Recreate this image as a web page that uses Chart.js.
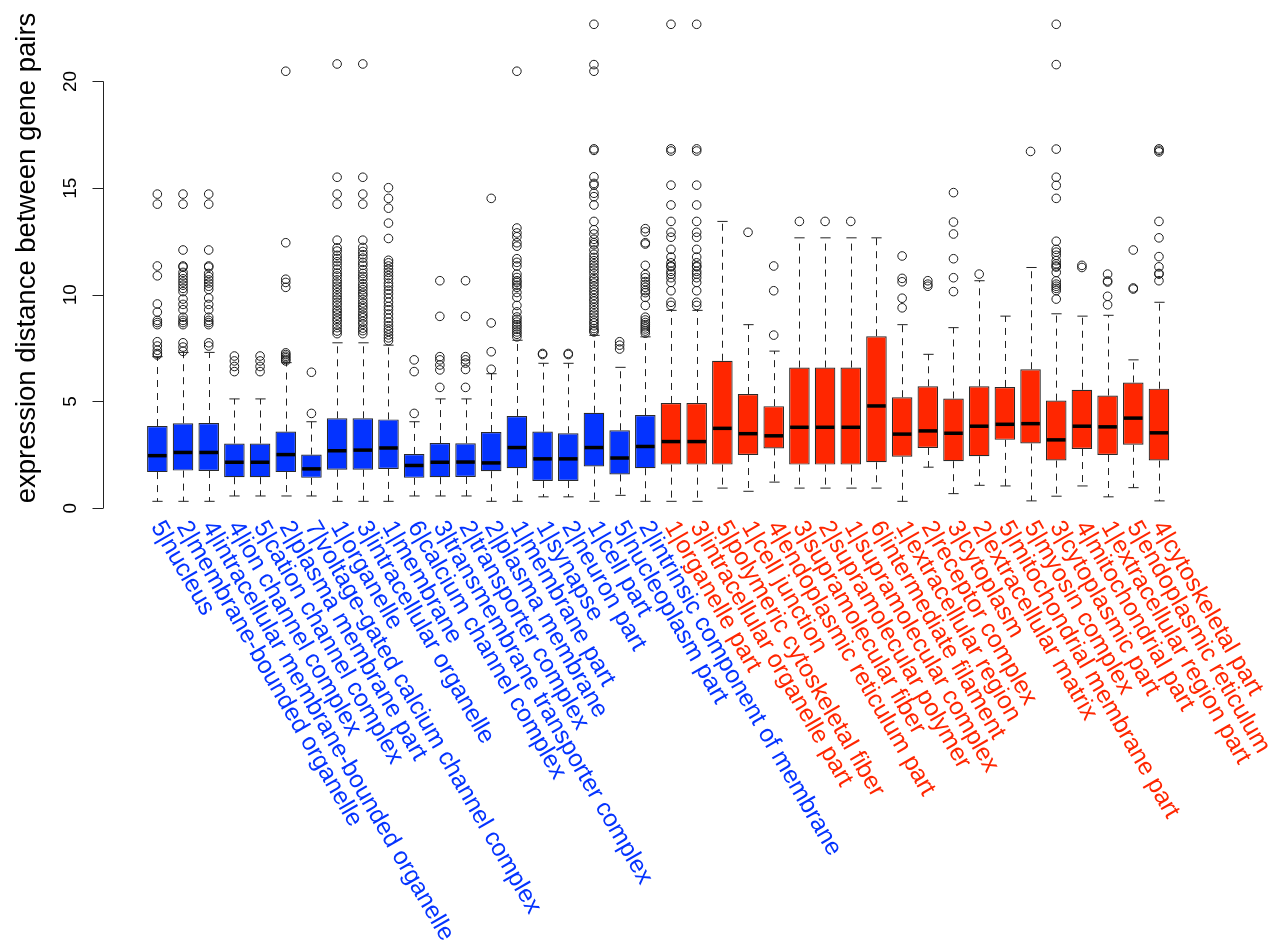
<!DOCTYPE html>
<html>
<head>
<meta charset="utf-8">
<script src="https://cdn.jsdelivr.net/npm/chart.js@4/dist/chart.umd.min.js"></script>
<style>
  html, body { margin: 0; padding: 0; background: #ffffff; }
  #wrap { width: 1276px; height: 942px; }
</style>
</head>
<body>
<div id="wrap"><canvas id="plot" width="1276" height="942"></canvas></div>
<script>
// GO cellular-component terms, two groups
const groupOneTerms = [
  '5|nucleus', '2|membrane-bounded organelle', '4|intracellular membrane-bounded organelle',
  '4|ion channel complex', '5|cation channel complex', '2|plasma membrane part',
  '7|voltage-gated calcium channel complex', '1|organelle', '3|intracellular organelle',
  '1|membrane', '6|calcium channel complex', '3|transmembrane transporter complex',
  '2|transporter complex', '2|plasma membrane', '1|membrane part', '1|synapse',
  '2|neuron part', '1|cell part', '5|nucleoplasm part', '2|intrinsic component of membrane'
];
const groupTwoTerms = [
  '1|organelle part', '3|intracellular organelle part', '5|polymeric cytoskeletal fiber',
  '1|cell junction', '4|endoplasmic reticulum part', '3|supramolecular fiber',
  '2|supramolecular polymer', '1|supramolecular complex', '6|intermediate filament',
  '1|extracellular region', '2|receptor complex', '3|cytoplasm', '2|extracellular matrix',
  '5|mitochondrial membrane part', '5|myosin complex', '3|cytoplasmic part',
  '4|mitochondrial part', '1|extracellular region part', '5|endoplasmic reticulum',
  '4|cytoskeletal part'
];

// five-number summaries per term
const lowWhisker = [
  0.32, 0.32, 0.32, 0.57, 0.57, 0.57, 0.57, 0.32, 0.32, 0.32,
  0.57, 0.57, 0.57, 0.32, 0.32, 0.53, 0.53, 0.32, 0.60, 0.32,
  0.32, 0.32, 0.94, 0.79, 1.22, 0.94, 0.94, 0.94, 0.94, 0.32,
  1.92, 0.68, 1.07, 1.04, 0.34, 0.56, 1.04, 0.53, 0.96, 0.34
];
const lowerQuartile = [
  1.69, 1.76, 1.74, 1.45, 1.45, 1.69, 1.42, 1.80, 1.80, 1.84,
  1.42, 1.45, 1.46, 1.73, 1.87, 1.27, 1.27, 1.95, 1.58, 1.87,
  2.04, 2.04, 2.04, 2.49, 2.80, 2.04, 2.04, 2.04, 2.15, 2.41,
  2.82, 2.20, 2.43, 3.20, 3.03, 2.23, 2.77, 2.49, 2.97, 2.23
];
const medianValue = [
  2.46, 2.61, 2.61, 2.15, 2.15, 2.51, 1.84, 2.69, 2.72, 2.82,
  2.00, 2.15, 2.16, 2.12, 2.84, 2.31, 2.31, 2.84, 2.35, 2.89,
  3.12, 3.12, 3.74, 3.49, 3.39, 3.79, 3.79, 3.79, 4.79, 3.47,
  3.62, 3.51, 3.84, 3.93, 3.96, 3.20, 3.84, 3.81, 4.22, 3.53
];
const upperQuartile = [
  3.85, 3.98, 3.99, 3.03, 3.03, 3.59, 2.51, 4.21, 4.21, 4.16,
  2.54, 3.05, 3.04, 3.57, 4.32, 3.59, 3.51, 4.47, 3.65, 4.36,
  4.93, 4.93, 6.91, 5.35, 4.78, 6.59, 6.59, 6.59, 8.06, 5.20,
  5.71, 5.14, 5.71, 5.68, 6.51, 5.04, 5.55, 5.28, 5.89, 5.60
];
const highWhisker = [
  7.10, 7.30, 7.30, 5.12, 5.12, 6.82, 4.05, 7.75, 7.75, 7.64,
  4.05, 5.12, 5.12, 6.30, 7.87, 6.79, 6.79, 8.10, 6.60, 8.03,
  9.27, 9.27, 13.44, 8.60, 7.36, 12.67, 12.67, 12.67, 12.67, 8.60,
  7.21, 8.46, 10.66, 9.00, 11.28, 9.11, 9.00, 9.04, 6.95, 9.65
];
const outlierValues = [
  [14.72, 14.25, 11.35, 10.89, 9.57, 9.19, 8.80, 8.70, 8.60, 7.80, 7.60, 7.40, 7.25, 7.18],
  [14.72, 14.25, 12.10, 11.35, 11.30, 11.05, 10.90, 10.75, 10.60, 10.45, 10.30, 10.15, 9.80, 9.55, 9.30, 8.95, 8.80, 8.70, 8.60, 7.75, 7.55, 7.35],
  [14.72, 14.25, 12.10, 11.35, 11.30, 11.00, 10.85, 10.70, 10.55, 10.40, 10.25, 9.85, 9.55, 9.30, 8.95, 8.80, 8.70, 8.60, 7.75, 7.60],
  [7.13, 6.90, 6.64, 6.40],
  [7.13, 6.90, 6.64, 6.40],
  [20.48, 12.44, 10.73, 10.58, 10.35, 7.28, 7.20, 7.12, 7.05, 6.97, 6.90],
  [6.37, 4.44],
  [20.82, 15.51, 14.72, 14.25, 12.56, 12.20, 12.05, 11.85, 11.70, 11.55, 11.38, 11.20, 11.02, 10.88, 10.70, 10.55, 10.40, 10.26, 10.10, 9.95, 9.80, 9.64, 9.50, 9.33, 9.20, 9.05, 8.90, 8.77, 8.60, 8.46, 8.30, 8.18],
  [20.82, 15.51, 14.72, 14.25, 12.56, 12.22, 12.03, 11.88, 11.72, 11.52, 11.38, 11.18, 11.00, 10.86, 10.72, 10.52, 10.38, 10.24, 10.08, 9.96, 9.78, 9.62, 9.48, 9.35, 9.18, 9.04, 8.92, 8.75, 8.62, 8.44, 8.32, 8.18],
  [15.02, 14.52, 14.06, 13.36, 12.64, 11.62, 11.50, 11.35, 11.20, 11.05, 10.90, 10.75, 10.55, 10.40, 10.22, 10.05, 9.85, 9.65, 9.45, 9.30, 9.10, 8.90, 8.72, 8.55, 8.40, 8.28, 8.12, 7.98, 7.85],
  [6.95, 6.40, 4.44],
  [10.66, 8.99, 7.10, 6.95, 6.71, 6.48, 5.66],
  [10.66, 8.99, 7.10, 6.95, 6.80, 6.50, 5.66],
  [14.52, 8.68, 7.33, 6.51],
  [20.48, 13.13, 12.90, 12.72, 12.44, 12.28, 11.69, 11.52, 11.35, 10.97, 10.81, 10.66, 10.58, 10.45, 10.35, 10.11, 9.88, 9.50, 9.20, 8.96, 8.85, 8.72, 8.60, 8.50, 8.38, 8.26, 8.15, 8.03],
  [7.25, 7.20],
  [7.25, 7.20],
  [22.68, 20.79, 20.48, 16.84, 16.77, 15.53, 15.22, 15.14, 14.76, 14.60, 14.21, 13.44, 13.05, 12.85, 12.60, 12.44, 12.35, 12.10, 11.90, 11.75, 11.60, 11.45, 11.30, 11.15, 11.00, 10.82, 10.70, 10.55, 10.40, 10.25, 10.12, 9.98, 9.82, 9.70, 9.55, 9.40, 9.25, 9.10, 8.95, 8.80, 8.68, 8.55, 8.42, 8.33, 8.26],
  [7.80, 7.64, 7.46],
  [13.10, 12.95, 12.44, 12.38, 11.38, 10.95, 10.80, 10.62, 10.48, 10.35, 10.20, 10.10, 9.88, 9.50, 8.95, 8.82, 8.70, 8.60, 8.50, 8.40, 8.30, 8.20],
  [22.68, 16.84, 16.74, 15.14, 14.21, 13.44, 12.93, 12.70, 12.13, 11.77, 11.50, 11.35, 11.31, 11.10, 10.97, 10.80, 10.58, 10.19, 9.65, 9.50],
  [22.68, 16.84, 16.74, 15.14, 14.21, 13.44, 12.93, 12.70, 12.13, 11.77, 11.50, 11.35, 11.31, 11.10, 10.97, 10.80, 10.58, 10.19, 9.65, 9.50],
  [],
  [12.93],
  [11.35, 10.19, 8.11],
  [13.44],
  [13.44],
  [13.44],
  [],
  [11.82, 10.77, 10.61, 9.84, 9.39],
  [10.66, 10.50, 10.40],
  [14.79, 13.41, 12.85, 11.69, 10.80, 10.15],
  [10.97],
  [],
  [16.72],
  [22.68, 20.79, 16.83, 15.51, 15.13, 14.52, 12.51, 12.13, 12.00, 11.85, 11.60, 11.45, 11.35, 11.30, 11.05, 10.65, 10.50, 10.40, 10.30, 10.20, 9.80],
  [11.38, 11.28],
  [10.97, 10.65, 10.60, 9.93, 9.53],
  [12.10, 10.32, 10.27],
  [16.84, 16.77, 16.70, 13.44, 12.67, 11.79, 11.31, 11.00, 10.97, 10.66]
];
const yTicks = [0, 5, 10, 15, 20];
const yTitle = 'expression distance between gene pairs';

const groupOneColour = '#0433FF';
const groupTwoColour = '#FF2600';
const fontFamily = '"Liberation Sans", Arial, Helvetica, sans-serif';

const terms = groupOneTerms.concat(groupTwoTerms);
const termColours = groupOneTerms.map(() => groupOneColour)
  .concat(groupTwoTerms.map(() => groupTwoColour));

const boxRanges = lowerQuartile.map((q, i) => [q, upperQuartile[i]]);
const outlierPoints = [];
outlierValues.forEach((list, i) => {
  list.forEach(v => outlierPoints.push({ x: terms[i], y: v }));
});

// whiskers, staples, medians, the y axis and the rotated term labels
const boxplotExtras = {
  id: 'boxplotExtras',
  beforeDatasetsDraw(chart) {
    const ctx = chart.ctx;
    const y = chart.scales.y;
    const bars = chart.getDatasetMeta(0).data;
    ctx.save();
    ctx.strokeStyle = '#222';
    ctx.lineWidth = 1;
    bars.forEach((bar, i) => {
      const cx = Math.round(bar.x) + 0.5;
      const half = bar.width / 4;
      const yLo = y.getPixelForValue(lowWhisker[i]);
      const yQ1 = y.getPixelForValue(lowerQuartile[i]);
      const yQ3 = y.getPixelForValue(upperQuartile[i]);
      const yHi = y.getPixelForValue(highWhisker[i]);
      ctx.setLineDash([7, 6]);
      ctx.beginPath();
      ctx.moveTo(cx, yQ3); ctx.lineTo(cx, yHi);
      ctx.moveTo(cx, yQ1); ctx.lineTo(cx, yLo);
      ctx.stroke();
      ctx.setLineDash([]);
      ctx.beginPath();
      ctx.moveTo(cx - half, yHi); ctx.lineTo(cx + half, yHi);
      ctx.moveTo(cx - half, yLo); ctx.lineTo(cx + half, yLo);
      ctx.stroke();
    });
    ctx.restore();
  },
  afterDatasetsDraw(chart) {
    const ctx = chart.ctx;
    const y = chart.scales.y;
    const bars = chart.getDatasetMeta(0).data;
    ctx.save();
    ctx.strokeStyle = '#000';
    ctx.lineWidth = 3.5;
    bars.forEach((bar, i) => {
      const ym = y.getPixelForValue(medianValue[i]);
      ctx.beginPath();
      ctx.moveTo(bar.x - bar.width / 2 + 1, ym);
      ctx.lineTo(bar.x + bar.width / 2 - 1, ym);
      ctx.stroke();
    });
    ctx.restore();
  },
  afterDraw(chart) {
    const ctx = chart.ctx;
    const x = chart.scales.x;
    const y = chart.scales.y;
    ctx.save();
    // y axis
    const axisX = 103.5;
    ctx.strokeStyle = '#222';
    ctx.lineWidth = 1;
    ctx.beginPath();
    ctx.moveTo(axisX, y.getPixelForValue(yTicks[0]));
    ctx.lineTo(axisX, y.getPixelForValue(yTicks[yTicks.length - 1]));
    yTicks.forEach(t => {
      const py = Math.round(y.getPixelForValue(t)) + 0.5;
      ctx.moveTo(axisX, py);
      ctx.lineTo(axisX - 11, py);
    });
    ctx.stroke();
    ctx.fillStyle = '#000';
    ctx.font = '19px ' + fontFamily;
    ctx.textAlign = 'center';
    ctx.textBaseline = 'middle';
    yTicks.forEach(t => {
      ctx.save();
      ctx.translate(71, y.getPixelForValue(t));
      ctx.rotate(-Math.PI / 2);
      ctx.fillText(String(t), 0, 0);
      ctx.restore();
    });
    ctx.font = '27.5px ' + fontFamily;
    ctx.save();
    ctx.translate(27, 258);
    ctx.rotate(-Math.PI / 2);
    ctx.fillText(yTitle, 0, 0);
    ctx.restore();
    // term labels
    ctx.font = '24.5px ' + fontFamily;
    ctx.textAlign = 'left';
    ctx.textBaseline = 'middle';
    terms.forEach((term, i) => {
      ctx.save();
      ctx.translate(x.getPixelForValue(i) - 1, 523);
      ctx.rotate(Math.PI / 3);
      ctx.fillStyle = termColours[i];
      ctx.fillText(term, 0, 0);
      ctx.restore();
    });
    ctx.restore();
  }
};

new Chart(document.getElementById('plot'), {
  type: 'bar',
  data: {
    labels: terms,
    datasets: [
      {
        type: 'bar',
        data: boxRanges,
        backgroundColor: termColours,
        borderColor: '#2a2a2a',
        borderWidth: 1.2,
        borderSkipped: false,
        barPercentage: 0.8,
        categoryPercentage: 1.0,
        order: 2
      },
      {
        type: 'scatter',
        data: outlierPoints,
        pointStyle: 'circle',
        pointRadius: 4.3,
        pointBorderColor: '#1a1a1a',
        pointBackgroundColor: 'rgba(0,0,0,0)',
        pointBorderWidth: 1,
        showLine: false,
        order: 1
      }
    ]
  },
  options: {
    responsive: false,
    animation: false,
    events: [],
    layout: { padding: { left: 144.5, right: 104.2, top: 0, bottom: 421.7 } },
    plugins: { legend: { display: false }, tooltip: { enabled: false } },
    scales: {
      x: { type: 'category', display: false, offset: true },
      y: { type: 'linear', display: false, min: -0.57, max: 23.57 }
    }
  },
  plugins: [boxplotExtras]
});
</script>
</body>
</html>
